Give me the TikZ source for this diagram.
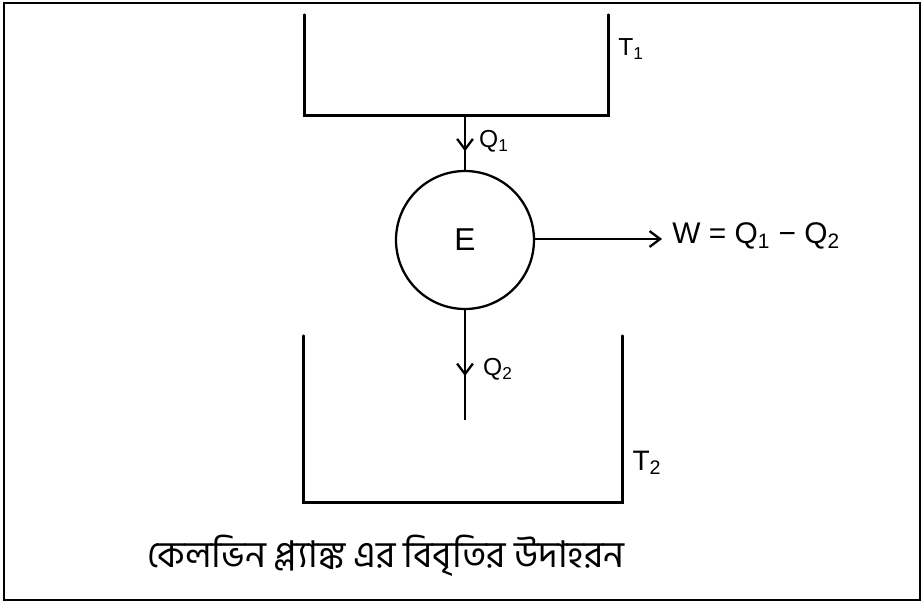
\documentclass[tikz,border=0pt]{standalone}
\usepackage{fontspec}
\setmainfont{Liberation Sans}
\newfontfamily\bnfont[Script=Bengali]{Hind Siliguri}
\usetikzlibrary{arrows.meta,decorations.markings}

\tikzset{
  wall/.style={line width=1.4pt,line cap=round},
  flow/.style={line width=1.3pt,postaction={decorate},
    decoration={markings,mark=at position #1 with {\arrow{Straight Barb[length=6pt,width=9pt,line width=1.3pt]}}}},
  flow/.default=0.6,
  lbl/.style={inner sep=0pt}
}

\begin{document}
\begin{tikzpicture}[x=0.02cm,y=-0.02cm]
  \useasboundingbox (0,0) rectangle (924,608);
  % frame
  \draw[line width=1.3pt] (4,3) rectangle (920,600);

  % reservoirs
  \node[minimum width=6.06cm,minimum height=2cm,inner sep=0pt] (hot) at (456.5,65) {};
  \node[minimum width=6.36cm,minimum height=3.32cm,inner sep=0pt] (cold) at (463,419) {};
  \draw[wall] (hot.north west) |- (hot.south east) -- (hot.north east);
  \draw[wall] (cold.north west) |- (cold.south east) -- (cold.north east);
  \node[lbl,font=\fontsize{14}{14}\selectfont] (t1) at (631,49) {T\textsubscript{1}};
  \node[lbl,font=\fontsize{16}{16}\selectfont] (t2) at (647,463) {T\textsubscript{2}};

  % engine
  \node[draw,circle,line width=1.3pt,minimum size=2.76cm,inner sep=0pt,
        font=\fontsize{18}{18}\selectfont] (eng) at (465,240) {E};

  \coordinate (q2end) at (465,420);
  \coordinate (wend) at (662,239);
  \draw[flow=0.66] (eng.north |- hot.south) -- (eng.north);
  \draw[flow=0.6] (eng.south) -- (q2end);
  \draw[line width=1.3pt,-{Straight Barb[length=6pt,width=9pt]}] (eng.east |- wend) -- (wend);

  \node[lbl,font=\fontsize{14}{14}\selectfont] (q1) at (494,141) {Q\textsubscript{1}};
  \node[lbl,font=\fontsize{14}{14}\selectfont] (q2) at (498,369) {Q\textsubscript{2}};
  \node[lbl,anchor=west,font=\fontsize{17}{17}\selectfont] (work) at (672,236)
    {W = Q\textsubscript{1} − Q\textsubscript{2}};

  % caption
  \node[lbl,font=\bnfont\fontsize{21}{21}\selectfont] (cap) at (386,556)
    {কেলভিন প্ল্যাঙ্ক এর বিবৃতির উদাহরন};
\end{tikzpicture}
\end{document}
